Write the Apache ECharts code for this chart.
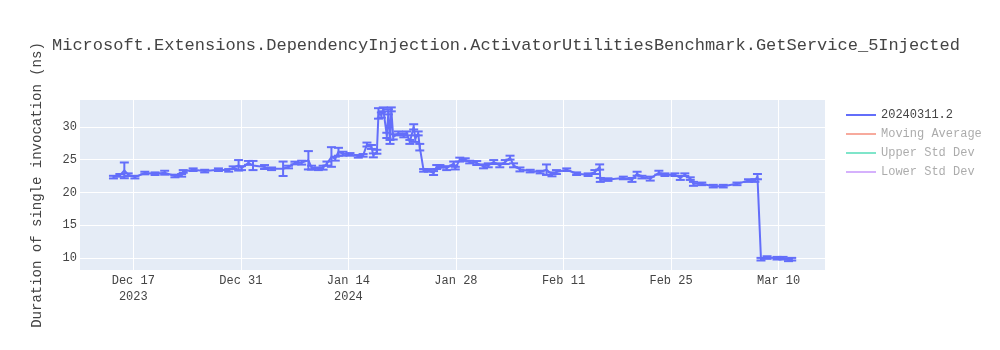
<!DOCTYPE html>
<html><head><meta charset="utf-8">
<script src="https://cdn.jsdelivr.net/npm/echarts@6/dist/echarts.min.js"></script>
<style>html,body{margin:0;padding:0;background:#fff}#c{width:1000px;height:350px}</style>
</head><body><div id="c"></div>
<script>
const chartTitle = 'Microsoft.Extensions.DependencyInjection.ActivatorUtilitiesBenchmark.GetService_5Injected';
const yAxisTitle = 'Duration of single invocation (ns)';
const seriesNames = ['20240311.2', 'Moving Average', 'Upper Std Dev', 'Lower Std Dev'];
const dates = [
'2023-12-14 10:00','2023-12-15 06:00','2023-12-15 20:00','2023-12-16 08:00','2023-12-17 05:00','2023-12-18 12:00','2023-12-19 20:00','2023-12-21 02:00','2023-12-22 10:00','2023-12-23 07:00',
'2023-12-23 12:00','2023-12-24 19:00','2023-12-26 07:00','2023-12-28 02:00','2023-12-29 10:00','2023-12-30 00:00','2023-12-30 17:00','2023-12-31 02:00','2024-01-01 00:00','2024-01-01 14:00',
'2024-01-03 02:00','2024-01-04 00:00','2024-01-05 12:00','2024-01-06 05:00','2024-01-07 01:00','2024-01-07 22:00','2024-01-08 19:00','2024-01-09 05:00','2024-01-10 02:00','2024-01-10 17:00',
'2024-01-11 05:00','2024-01-11 19:00','2024-01-12 07:00','2024-01-12 17:00','2024-01-13 07:00','2024-01-14 05:00','2024-01-15 07:00','2024-01-15 22:00','2024-01-16 10:00','2024-01-17 00:00',
'2024-01-17 06:00','2024-01-17 17:00','2024-01-17 22:00','2024-01-18 07:00','2024-01-18 13:00','2024-01-19 00:00','2024-01-19 05:00','2024-01-19 10:00','2024-01-19 14:00','2024-01-19 20:00',
'2024-01-20 12:00','2024-01-21 05:00','2024-01-21 14:00','2024-01-22 00:00','2024-01-22 12:00','2024-01-22 17:00','2024-01-23 02:00','2024-01-23 07:00','2024-01-23 19:00','2024-01-24 10:00',
'2024-01-25 02:00','2024-01-25 12:00','2024-01-25 22:00','2024-01-26 19:00','2024-01-27 17:00','2024-01-27 22:00','2024-01-28 12:00','2024-01-29 05:00','2024-01-29 19:00','2024-01-30 17:00',
'2024-01-31 14:00','2024-02-01 05:00','2024-02-01 22:00','2024-02-02 17:00','2024-02-03 10:00','2024-02-04 01:00','2024-02-04 12:00','2024-02-05 08:00','2024-02-06 16:00','2024-02-07 23:00',
'2024-02-08 19:00','2024-02-09 12:00','2024-02-10 02:00','2024-02-11 10:00','2024-02-12 17:00','2024-02-14 05:00','2024-02-15 02:00','2024-02-15 17:00','2024-02-15 19:00','2024-02-16 19:00',
'2024-02-18 19:00','2024-02-19 22:00','2024-02-20 14:00','2024-02-21 05:00','2024-02-22 07:00','2024-02-23 10:00','2024-02-24 05:00','2024-02-25 12:00','2024-02-26 05:00','2024-02-26 19:00',
'2024-02-27 12:00','2024-02-27 22:00','2024-02-29 00:00','2024-03-01 12:00','2024-03-02 19:00','2024-03-04 14:00','2024-03-06 02:00','2024-03-06 22:00','2024-03-07 06:00','2024-03-07 17:00',
'2024-03-08 12:00','2024-03-09 19:00','2024-03-10 14:00','2024-03-11 07:00','2024-03-11 17:00'
];
const values = [
22.33,22.6,23.36,22.7,22.33,22.95,22.85,23.0,22.5,22.6,
23.2,23.46,23.25,23.46,23.36,23.77,24.13,23.7,24.5,24.1,
23.87,23.6,23.6,23.87,24.48,24.54,24.9,23.77,23.6,23.77,
24.4,25.4,25.15,26.2,25.9,25.8,25.5,25.65,27.3,26.93,
25.65,26.2,32.05,31.8,32.67,28.7,32.3,27.7,32.67,28.47,
29.0,28.7,29.0,27.7,30.0,28.2,29.0,26.9,23.36,23.36,
22.95,23.87,23.97,23.7,24.4,23.7,25.0,25.0,24.63,24.48,
23.97,24.13,24.63,24.13,24.63,25.3,24.13,23.5,23.25,23.1,
23.46,22.75,23.1,23.46,22.85,22.7,23.1,23.87,21.9,21.95,
22.2,21.9,22.85,22.33,22.1,23.0,22.7,22.7,22.2,22.7,
22.1,21.3,21.3,20.95,20.95,21.3,21.8,21.8,22.4,9.8,
10.05,9.95,9.95,9.7,9.8
];
const errors = [
0.2,0.2,1.2,0.2,0.2,0.2,0.2,0.3,0.2,0.2,
0.2,0.2,0.2,0.2,0.2,0.2,0.8,0.3,0.3,0.7,
0.3,0.2,1.1,0.2,0.2,0.3,1.4,0.3,0.2,0.3,
0.3,1.5,0.3,0.6,0.3,0.2,0.2,0.2,0.3,0.3,
0.3,0.3,0.8,0.4,0.3,0.4,0.4,0.3,0.3,0.4,
0.3,0.3,0.3,0.3,0.4,0.5,0.3,0.5,0.2,0.2,
0.3,0.3,0.2,0.3,0.3,0.2,0.3,0.2,0.2,0.3,
0.3,0.3,0.3,0.3,0.3,0.3,0.3,0.3,0.2,0.2,
0.8,0.3,0.3,0.2,0.2,0.2,0.3,0.4,0.3,0.2,
0.2,0.3,0.3,0.2,0.3,0.3,0.2,0.2,0.3,0.2,
0.2,0.3,0.2,0.2,0.2,0.2,0.2,0.2,0.4,0.2,
0.2,0.2,0.2,0.2,0.2
];
const xTicks = ['2023-12-17 00:00','2023-12-31 00:00','2024-01-14 00:00','2024-01-28 00:00','2024-02-11 00:00','2024-02-25 00:00','2024-03-10 00:00'];
const xTickLabels = ['Dec 17\n2023','Dec 31','Jan 14\n2024','Jan 28','Feb 11','Feb 25','Mar 10'];
const yTicks = [10, 15, 20, 25, 30];
const xRange = ['2023-12-10 01:30', '2024-03-16 01:00'];
const yRange = [8.15, 34.1];

const toTs = s => new Date(s.replace(' ', 'T')).getTime();
const xTickTs = xTicks.map(toTs);
const mono = '"Liberation Mono", "Courier New", monospace';
const mainColor = '#636efa';
const dim = 'rgba(68,68,68,0.45)';

const chart = echarts.init(document.getElementById('c'), null, {renderer: 'canvas'});
chart.setOption({
  animation: false,
  backgroundColor: '#ffffff',
  title: {
    text: chartTitle, left: 47, top: 32,
    textStyle: {fontFamily: mono, fontSize: 17, fontWeight: 'normal', color: '#444'}
  },
  grid: {left: 80, right: 175, top: 100, bottom: 80, show: true, backgroundColor: '#E5ECF6', borderWidth: 0},
  legend: {
    orient: 'vertical', left: 846, top: 108, padding: 0, itemWidth: 30, itemHeight: 2, itemGap: 5, icon: 'rect',
    textStyle: {fontFamily: mono, fontSize: 12, color: '#444', lineHeight: 14},
    data: [
      {name: seriesNames[0]},
      {name: seriesNames[1], textStyle: {color: dim}},
      {name: seriesNames[2], textStyle: {color: dim}},
      {name: seriesNames[3], textStyle: {color: dim}}
    ]
  },
  xAxis: {
    type: 'value', min: toTs(xRange[0]), max: toTs(xRange[1]),
    axisLine: {show: false}, axisTick: {show: false, customValues: xTickTs},
    splitLine: {show: true, lineStyle: {color: '#ffffff', width: 1}},
    axisLabel: {
      customValues: xTickTs, margin: 3, lineHeight: 16,
      fontFamily: mono, fontSize: 12, color: '#444',
      formatter: v => { const i = xTickTs.indexOf(v); return i >= 0 ? xTickLabels[i] : ''; }
    }
  },
  yAxis: {
    type: 'value', min: yRange[0], max: yRange[1],
    name: yAxisTitle, nameLocation: 'middle', nameGap: 36,
    nameTextStyle: {fontFamily: mono, fontSize: 14, color: '#444'},
    axisLine: {show: false}, axisTick: {show: false, customValues: yTicks},
    splitLine: {show: true, lineStyle: {color: '#ffffff', width: 1}},
    axisLabel: {customValues: yTicks, margin: 3, fontFamily: mono, fontSize: 12, color: '#444'}
  },
  series: [
    {
      name: seriesNames[0], type: 'line', showSymbol: false, color: mainColor,
      lineStyle: {width: 2, color: mainColor},
      data: dates.map((d, i) => [toTs(d), values[i]]), z: 3
    },
    {
      name: seriesNames[0], type: 'custom', color: mainColor, z: 3,
      data: dates.map((d, i) => [toTs(d), values[i] - errors[i], values[i] + errors[i]]),
      encode: {x: 0, y: [1, 2]},
      renderItem: (params, api) => {
        const x = api.value(0);
        const lo = api.coord([x, api.value(1)]);
        const hi = api.coord([x, api.value(2)]);
        const w = 4.5;
        const st = {stroke: mainColor, lineWidth: 2};
        return {type: 'group', children: [
          {type: 'line', shape: {x1: lo[0], y1: lo[1], x2: hi[0], y2: hi[1]}, style: st},
          {type: 'line', shape: {x1: lo[0] - w, y1: lo[1], x2: lo[0] + w, y2: lo[1]}, style: st},
          {type: 'line', shape: {x1: hi[0] - w, y1: hi[1], x2: hi[0] + w, y2: hi[1]}, style: st}
        ]};
      }
    },
    {name: seriesNames[1], type: 'line', color: 'rgba(239,85,59,0.5)', data: []},
    {name: seriesNames[2], type: 'line', color: 'rgba(0,204,150,0.5)', data: []},
    {name: seriesNames[3], type: 'line', color: 'rgba(171,99,250,0.5)', data: []}
  ]
});
</script>
</body></html>
